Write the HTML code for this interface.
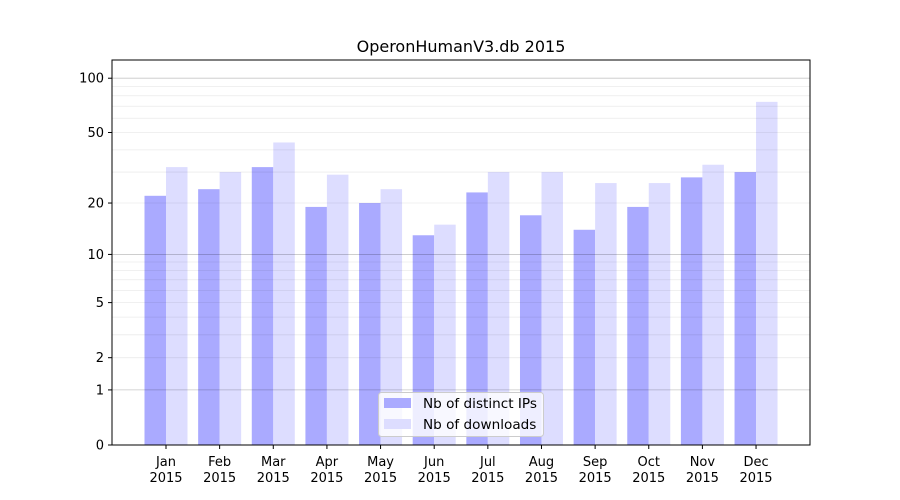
<!DOCTYPE html>
<html><head><meta charset="utf-8"><style>body{margin:0;background:#fff}svg{display:block}text{font-family:"DejaVu Sans","Liberation Sans",sans-serif;fill:#000}</style></head>
<body>
<svg id="s" width="900" height="500" xmlns="http://www.w3.org/2000/svg">
<rect width="900" height="500" fill="#fff"/>
<g id="bars"></g>
<g id="grid"></g>
<rect x="112" y="60" width="698" height="385" fill="none" stroke="#000" stroke-width="1"/>
<g id="ax"></g>
<text x="461" y="52" font-size="16" text-anchor="middle">OperonHumanV3.db 2015</text>
<g>
<rect x="378.5" y="392.5" width="165" height="44" rx="3" fill="#fff" fill-opacity="0.8" stroke="#ccc"/>
<rect x="384" y="398" width="27" height="10" fill="#aaaaff"/>
<rect x="384" y="419" width="27" height="10" fill="#ddddff"/>
<text x="423" y="408" font-size="13.6">Nb of distinct IPs</text>
<text x="423" y="429" font-size="13.6">Nb of downloads</text>
</g>
</svg>
<script>
const ns="http://www.w3.org/2000/svg";
function el(p,t,a,txt){const e=document.createElementNS(ns,t);for(const k in a)e.setAttribute(k,a[k]);if(txt!==undefined)e.textContent=txt;document.getElementById(p).appendChild(e);}
const Y=v=>445-183*Math.log10(1+v);
const minors=[2,3,4,5,6,7,8,9,20,30,40,50,60,70,80,90];
minors.forEach(v=>el("grid","line",{x1:112,x2:810,y1:Y(v),y2:Y(v),stroke:"#000","stroke-opacity":0.08,"stroke-width":0.8}));
[1,10,100].forEach(v=>el("grid","line",{x1:112,x2:810,y1:Y(v),y2:Y(v),stroke:"#000","stroke-opacity":0.22,"stroke-width":0.8}));
const a=[22,24,32,19,20,13,23,17,14,19,28,30],b=[32,30,44,29,24,15,30,30,26,26,33,74];
const m=["Jan","Feb","Mar","Apr","May","Jun","Jul","Aug","Sep","Oct","Nov","Dec"];
for(let i=0;i<12;i++){const c=166+i*53.64;
el("bars","rect",{x:c-21.5,y:Y(a[i]),width:21.5,height:445-Y(a[i]),fill:"#aaaaff"});
el("bars","rect",{x:c,y:Y(b[i]),width:21.5,height:445-Y(b[i]),fill:"#ddddff"});
el("ax","line",{x1:c,x2:c,y1:445,y2:449,stroke:"#000"});
el("ax","text",{x:c,y:466,"font-size":13,"text-anchor":"middle"},m[i]);
el("ax","text",{x:c,y:482,"font-size":13,"text-anchor":"middle"},"2015");}
[[0,"0"],[1,"1"],[2,"2"],[5,"5"],[10,"10"],[20,"20"],[50,"50"],[100,"100"]].forEach(([v,t])=>{
el("ax","line",{x1:108,x2:112,y1:Y(v),y2:Y(v),stroke:"#000"});
el("ax","text",{x:104,y:Y(v)+4.5,"font-size":13,"text-anchor":"end"},t);});
</script>
</body></html>
